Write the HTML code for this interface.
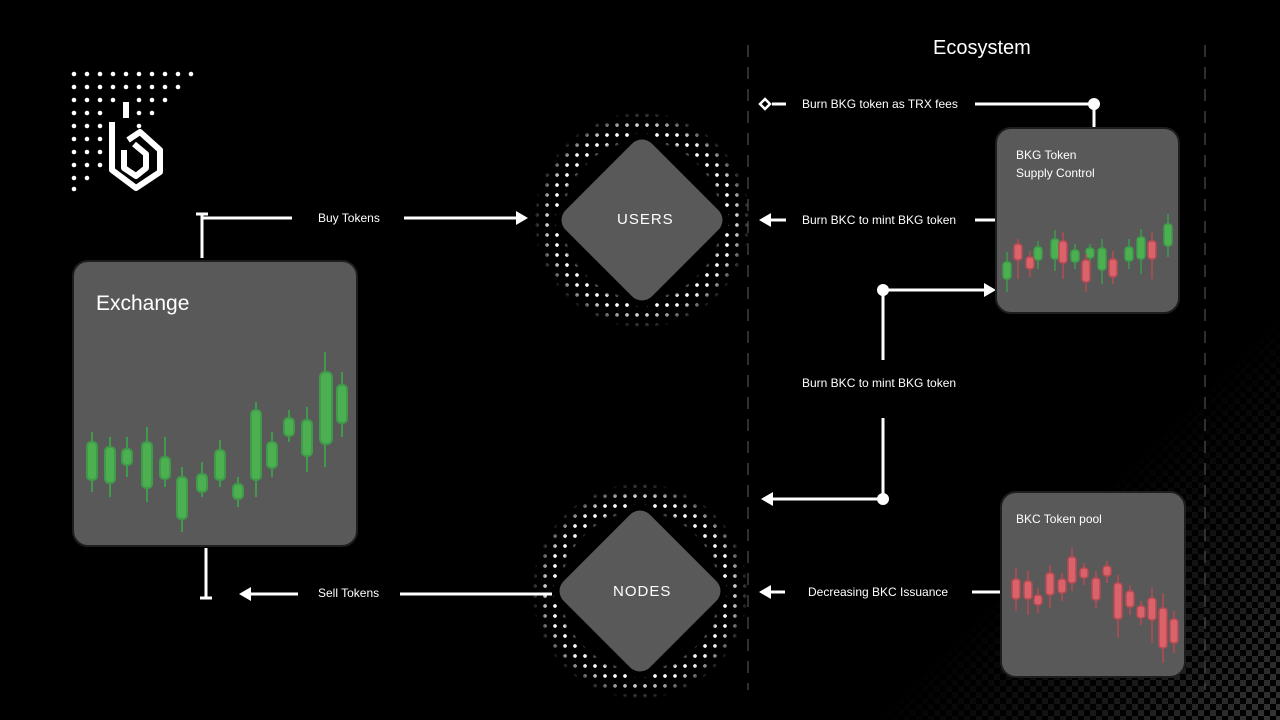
<!DOCTYPE html>
<html><head><meta charset="utf-8"><style>
html,body{margin:0;padding:0;background:#000;}
#c{position:relative;width:1280px;height:720px;overflow:hidden;background:#000;font-family:"Liberation Sans",sans-serif;color:#fff;}
.t{position:absolute;font-size:12px;color:#fff;white-space:nowrap;}
.box{position:absolute;background:#595959;border:2px solid #1e1e1e;border-radius:16px;}
.halo{position:absolute;width:220px;height:220px;
background-image:radial-gradient(circle,#fff 1.6px,transparent 2.1px);background-size:10px 10px;
-webkit-mask-image:radial-gradient(circle,transparent 0,transparent 78px,#000 84px,#000 92px,transparent 108px);}
.dia{position:absolute;width:122px;height:122px;background:#595959;border-radius:14px;transform:rotate(45deg);box-shadow:0 0 0 7px #000;}
.dl{position:absolute;font-size:15px;letter-spacing:1px;}
#tex{position:absolute;left:880px;top:290px;width:400px;height:430px;
background-image:linear-gradient(45deg,#777 25%,transparent 25%,transparent 75%,#777 75%),linear-gradient(45deg,#777 25%,transparent 25%,transparent 75%,#777 75%);
background-size:12px 12px;background-position:0 0,6px 6px;
-webkit-mask-image:linear-gradient(135deg,transparent 50%,rgba(0,0,0,.5) 80%,#000 100%);opacity:.45;}
</style></head><body><div id="c">
<div id="tex"></div>
<svg width="1280" height="720" style="position:absolute;left:0;top:0">
<g fill="#fff">
<circle cx="74" cy="74" r="2.3"/><circle cx="87" cy="74" r="2.3"/><circle cx="100" cy="74" r="2.3"/><circle cx="113" cy="74" r="2.3"/><circle cx="126" cy="74" r="2.3"/><circle cx="139" cy="74" r="2.3"/><circle cx="152" cy="74" r="2.3"/><circle cx="165" cy="74" r="2.3"/><circle cx="178" cy="74" r="2.3"/><circle cx="191" cy="74" r="2.3"/>
<circle cx="74" cy="87" r="2.3"/><circle cx="87" cy="87" r="2.3"/><circle cx="100" cy="87" r="2.3"/><circle cx="113" cy="87" r="2.3"/><circle cx="126" cy="87" r="2.3"/><circle cx="139" cy="87" r="2.3"/><circle cx="152" cy="87" r="2.3"/><circle cx="165" cy="87" r="2.3"/><circle cx="178" cy="87" r="2.3"/>
<circle cx="74" cy="100" r="2.3"/><circle cx="87" cy="100" r="2.3"/><circle cx="100" cy="100" r="2.3"/><circle cx="113" cy="100" r="2.3"/><circle cx="139" cy="100" r="2.3"/><circle cx="152" cy="100" r="2.3"/><circle cx="165" cy="100" r="2.3"/>
<circle cx="74" cy="113" r="2.3"/><circle cx="87" cy="113" r="2.3"/><circle cx="100" cy="113" r="2.3"/><circle cx="139" cy="113" r="2.3"/><circle cx="152" cy="113" r="2.3"/>
<circle cx="74" cy="126" r="2.3"/><circle cx="87" cy="126" r="2.3"/><circle cx="100" cy="126" r="2.3"/><circle cx="139" cy="126" r="2.3"/>
<circle cx="74" cy="139" r="2.3"/><circle cx="87" cy="139" r="2.3"/><circle cx="100" cy="139" r="2.3"/>
<circle cx="74" cy="152" r="2.3"/><circle cx="87" cy="152" r="2.3"/><circle cx="100" cy="152" r="2.3"/>
<circle cx="74" cy="165" r="2.3"/><circle cx="87" cy="165" r="2.3"/><circle cx="100" cy="165" r="2.3"/>
<circle cx="74" cy="178" r="2.3"/><circle cx="87" cy="178" r="2.3"/>
<circle cx="74" cy="189" r="2.3"/>
</g>
<g fill="none" stroke="#fff" stroke-width="6" stroke-linejoin="round">
<path d="M126 102 L126 118 M112 122 L112 170 L136 188 L160 172 L160 150 L140 132 L128 140"/>
<path d="M124 150 L124 168 L136 176 L146 168 L146 154 L134 144"/>
</g>
<g stroke="#3a4048" stroke-width="1.5" stroke-dasharray="12 10">
<line x1="748" y1="45" x2="748" y2="690"/><line x1="1205" y1="45" x2="1205" y2="690"/>
</g>
<g stroke="#fff" stroke-width="3" fill="none">
<line x1="202" y1="214" x2="202" y2="258"/><line x1="196" y1="214" x2="208" y2="214"/>
<line x1="202" y1="218" x2="292" y2="218"/>
<line x1="404" y1="218" x2="520" y2="218"/>
<line x1="206" y1="548" x2="206" y2="598"/><line x1="200" y1="598" x2="212" y2="598"/>
<line x1="246" y1="594" x2="298" y2="594"/>
<line x1="400" y1="594" x2="552" y2="594"/>
<line x1="772" y1="104" x2="786" y2="104"/>
<line x1="975" y1="104" x2="1094" y2="104"/><line x1="1094" y1="104" x2="1094" y2="128"/>
<line x1="766" y1="220" x2="786" y2="220"/><line x1="975" y1="220" x2="995" y2="220"/>
<line x1="883" y1="290" x2="985" y2="290"/><line x1="883" y1="290" x2="883" y2="360"/>
<line x1="883" y1="418" x2="883" y2="499"/><line x1="770" y1="499" x2="883" y2="499"/>
<line x1="766" y1="592" x2="785" y2="592"/><line x1="972" y1="592" x2="1000" y2="592"/>
</g>
<g fill="#fff">
<polygon points="528,218 516,211 516,225"/>
<polygon points="239,594 251,587 251,601"/>
<polygon points="759,220 771,213 771,227"/>
<polygon points="996,290 984,283 984,297"/>
<polygon points="761,499 773,492 773,506"/>
<polygon points="759,592 771,585 771,599"/>
<circle cx="1094" cy="104" r="6"/><circle cx="883" cy="290" r="6"/><circle cx="883" cy="499" r="6"/>
</g>
<polygon points="765,99 770,104 765,109 760,104" fill="#000" stroke="#fff" stroke-width="2.5"/>
</svg>

<div class="t" style="left:318px;top:211px">Buy Tokens</div>
<div class="t" style="left:318px;top:586px">Sell Tokens</div>
<div class="t" style="left:802px;top:97px">Burn BKG token as TRX fees</div>
<div class="t" style="left:802px;top:213px">Burn BKC to mint BKG token</div>
<div class="t" style="left:802px;top:376px">Burn BKC to mint BKG token</div>
<div class="t" style="left:808px;top:585px">Decreasing BKC Issuance</div>
<div style="position:absolute;left:933px;top:37px;font-size:20px;">Ecosystem</div>

<div class="halo" style="left:532px;top:110px"></div>
<div class="dia" style="left:581px;top:159px"></div>
<div class="dl" style="left:617px;top:211px">USERS</div>
<div class="halo" style="left:530px;top:481px"></div>
<div class="dia" style="left:579px;top:530px"></div>
<div class="dl" style="left:613px;top:583px">NODES</div>

<div class="box" style="left:72px;top:260px;width:282px;height:283px;">
<div style="position:absolute;left:22px;top:30px;font-size:21px;">Exchange</div>
<svg width="282" height="283" style="position:absolute;left:0;top:0">
<g stroke-width="2">
<g stroke="#3f9a4a" fill="#4caf50">
<line x1="18" y1="170" x2="18" y2="230"/><rect x="13" y="180" width="10" height="38" rx="4"/>
<line x1="36" y1="175" x2="36" y2="235"/><rect x="31" y="185" width="10" height="36" rx="4"/>
<line x1="53" y1="175" x2="53" y2="215"/><rect x="48" y="187" width="10" height="16" rx="4"/>
<line x1="73" y1="165" x2="73" y2="240"/><rect x="68" y="180" width="10" height="46" rx="4"/>
<line x1="91" y1="175" x2="91" y2="225"/><rect x="86" y="195" width="10" height="22" rx="4"/>
<line x1="108" y1="205" x2="108" y2="270"/><rect x="103" y="215" width="10" height="42" rx="4"/>
<line x1="128" y1="200" x2="128" y2="235"/><rect x="123" y="212" width="10" height="18" rx="4"/>
<line x1="146" y1="178" x2="146" y2="225"/><rect x="141" y="188" width="10" height="30" rx="4"/>
<line x1="164" y1="215" x2="164" y2="245"/><rect x="159" y="222" width="10" height="15" rx="4"/>
<line x1="182" y1="140" x2="182" y2="235"/><rect x="177" y="148" width="10" height="70" rx="4"/>
<line x1="198" y1="170" x2="198" y2="215"/><rect x="193" y="180" width="10" height="26" rx="4"/>
<line x1="215" y1="148" x2="215" y2="180"/><rect x="210" y="156" width="10" height="18" rx="4"/>
<line x1="233" y1="145" x2="233" y2="210"/><rect x="228" y="158" width="10" height="36" rx="4"/>
<line x1="251" y1="90" x2="251" y2="205"/><rect x="246" y="110" width="12" height="72" rx="5"/>
<line x1="268" y1="110" x2="268" y2="175"/><rect x="263" y="123" width="10" height="38" rx="4"/>
</g></g></svg>
</div>

<div class="box" style="left:995px;top:127px;width:181px;height:183px;">
<div style="position:absolute;left:19px;top:17px;font-size:12px;line-height:18px;">BKG Token<br>Supply Control</div>
<svg width="181" height="183" style="position:absolute;left:0;top:0"><g stroke-width="1.5">
<g stroke="#3f9a4a" fill="#4caf50">
<line x1="10" y1="123" x2="10" y2="163"/><rect x="6" y="133" width="8" height="17" rx="3"/>
<line x1="41" y1="112" x2="41" y2="140"/><rect x="37" y="118" width="8" height="13" rx="3"/>
<line x1="58" y1="101" x2="58" y2="142"/><rect x="54" y="110" width="8" height="20" rx="3"/>
<line x1="78" y1="115" x2="78" y2="140"/><rect x="74" y="121" width="8" height="12" rx="3"/>
<line x1="93" y1="115" x2="93" y2="136"/><rect x="89" y="119" width="8" height="10" rx="3"/>
<line x1="105" y1="110" x2="105" y2="155"/><rect x="101" y="119" width="8" height="22" rx="3"/>
<line x1="132" y1="110" x2="132" y2="140"/><rect x="128" y="118" width="8" height="14" rx="3"/>
<line x1="144" y1="100" x2="144" y2="145"/><rect x="140" y="108" width="8" height="22" rx="3"/>
<line x1="171" y1="85" x2="171" y2="128"/><rect x="167" y="95" width="8" height="22" rx="3"/>
</g>
<g stroke="#b84a52" fill="#d9626b">
<line x1="21" y1="110" x2="21" y2="150"/><rect x="17" y="115" width="8" height="16" rx="3"/>
<line x1="33" y1="122" x2="33" y2="148"/><rect x="29" y="128" width="8" height="12" rx="3"/>
<line x1="66" y1="103" x2="66" y2="150"/><rect x="62" y="112" width="8" height="22" rx="3"/>
<line x1="89" y1="125" x2="89" y2="163"/><rect x="85" y="131" width="8" height="22" rx="3"/>
<line x1="116" y1="122" x2="116" y2="155"/><rect x="112" y="130" width="8" height="18" rx="3"/>
<line x1="155" y1="103" x2="155" y2="150"/><rect x="151" y="112" width="8" height="18" rx="3"/>
</g></g></svg>
</div>

<div class="box" style="left:1000px;top:491px;width:182px;height:183px;">
<div style="position:absolute;left:14px;top:19px;font-size:12px;">BKC Token pool</div>
<svg width="182" height="183" style="position:absolute;left:0;top:0"><g stroke-width="1.5" stroke="#b84a52" fill="#d9626b">
<line x1="14" y1="75" x2="14" y2="118"/><rect x="10" y="86" width="8" height="20" rx="3"/>
<line x1="26" y1="78" x2="26" y2="122"/><rect x="22" y="88" width="8" height="18" rx="3"/>
<line x1="36" y1="95" x2="36" y2="120"/><rect x="32" y="102" width="8" height="10" rx="3"/>
<line x1="48" y1="72" x2="48" y2="115"/><rect x="44" y="80" width="8" height="22" rx="3"/>
<line x1="60" y1="80" x2="60" y2="108"/><rect x="56" y="86" width="8" height="14" rx="3"/>
<line x1="70" y1="55" x2="70" y2="98"/><rect x="66" y="64" width="8" height="26" rx="3"/>
<line x1="82" y1="70" x2="82" y2="92"/><rect x="78" y="75" width="8" height="10" rx="3"/>
<line x1="94" y1="78" x2="94" y2="115"/><rect x="90" y="85" width="8" height="22" rx="3"/>
<line x1="105" y1="68" x2="105" y2="90"/><rect x="101" y="73" width="8" height="10" rx="3"/>
<line x1="116" y1="82" x2="116" y2="145"/><rect x="112" y="90" width="8" height="36" rx="3"/>
<line x1="128" y1="92" x2="128" y2="122"/><rect x="124" y="98" width="8" height="16" rx="3"/>
<line x1="139" y1="108" x2="139" y2="132"/><rect x="135" y="113" width="8" height="12" rx="3"/>
<line x1="150" y1="95" x2="150" y2="150"/><rect x="146" y="105" width="8" height="22" rx="3"/>
<line x1="161" y1="100" x2="161" y2="170"/><rect x="157" y="115" width="8" height="40" rx="3"/>
<line x1="172" y1="118" x2="172" y2="160"/><rect x="168" y="126" width="8" height="24" rx="3"/>
</g></svg>
</div>
</div></body></html>
